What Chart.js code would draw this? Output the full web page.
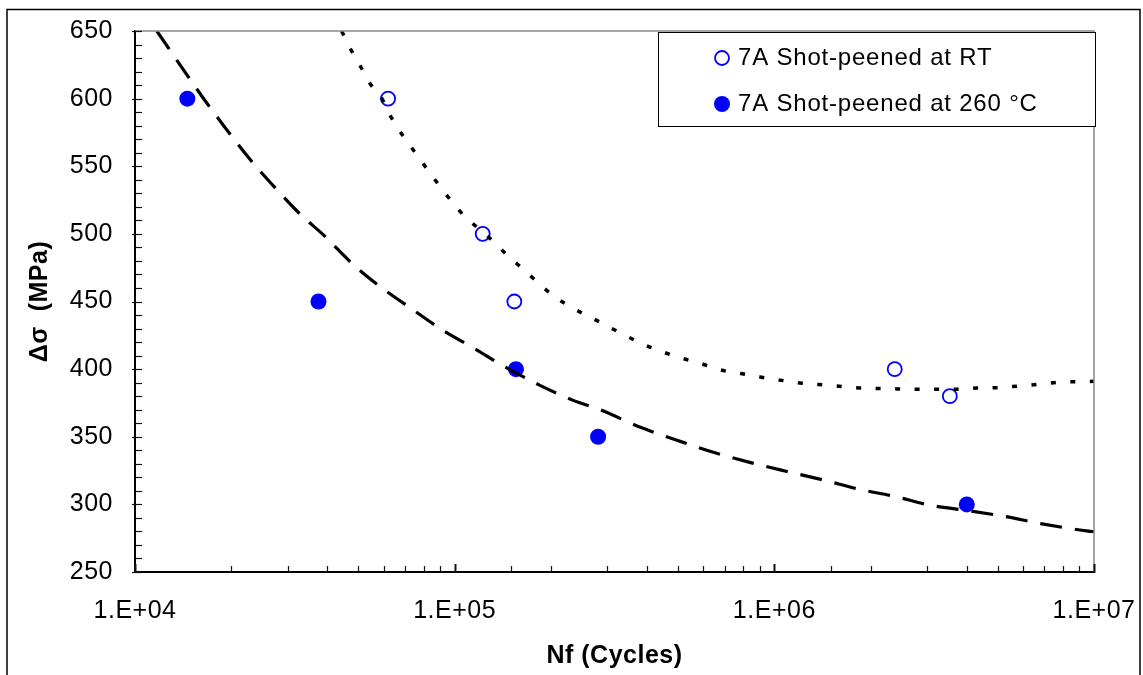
<!DOCTYPE html>
<html>
<head>
<meta charset="utf-8">
<title>S-N curves, 7A shot-peened</title>
<script src="https://cdn.jsdelivr.net/npm/chart.js@4/dist/chart.umd.min.js"></script>
<style>
  html,body{margin:0;padding:0;background:#fff;overflow:hidden;}
  #wrap{width:1143px;height:675px;position:relative;}
  canvas{display:block;}
</style>
</head>
<body>
<div id="wrap"><canvas id="sn"></canvas></div>
<script>
/* measured points: cycles to failure / stress range (MPa) */
const rtCycles  = [6.19e4, 1.224e5, 1.537e5, 2.38e6, 3.54e6];
const rtStress  = [600, 500, 450, 400, 380];
const hotCycles = [1.458e4, 3.75e4, 1.555e5, 2.81e5, 4.0e6];
const hotStress = [600, 450, 400, 350, 300];

/* trend lines */
const rtFitCycles = [4.43e4, 4.68e4, 5.06e4, 5.40e4, 5.91e4, 6.31e4, 7.8e4, 9.79e4, 1.069e5, 1.2e5, 1.327e5,
  1.479e5, 1.648e5, 1.826e5, 2.05e5, 2.32e5, 2.63e5, 3.86e5, 4.43e5, 5.09e5, 5.9e5, 6.78e5, 7.86e5, 9.02e5,
  1.035e6, 1.2e6, 1.378e6, 1.6e6, 1.84e6, 2.4e6, 3.0e6, 3.8e6, 4.3e6, 5.0e6, 5.86e6, 6.73e6, 7.82e6, 1e7];
const rtFitStress = [650, 638.4, 624.4, 612.1, 600.3, 586.7, 555, 523.9, 513.6, 503, 494,
  482.9, 473.5, 463.7, 453.8, 445.6, 439, 418.8, 413.1, 408.3, 404.1, 399.4, 396.7, 394.2,
  392, 389.8, 388.6, 387.3, 386.1, 385.4, 385.1, 385.1, 386, 386.3, 387.6, 388.8, 390.3, 391];

const hotFitCycles = [1.17e4, 1.636e4, 1.912e4, 2.262e4, 2.69e4, 3.24e4, 3.93e4, 4.79e4, 5.83e4, 7.34e4, 9.2e4,
  1.157e5, 1.411e5, 1.849e5, 2.35e5, 2.85e5, 3.85e5, 4.96e5, 6.49e5, 8.43e5, 1.087e6, 1.431e6, 1.855e6,
  2.37e6, 3.08e6, 4.0e6, 5.25e6, 6.81e6, 9.6e6, 1e7];
const hotFitStress = [650, 600.3, 578.7, 556.6, 536.3, 516, 498.1, 477.8, 461.2, 444.5, 428.6,
  415, 402.7, 388, 376.9, 370, 356.6, 347.4, 338.3, 330.9, 324.5, 317.9, 311,
  306, 299.3, 295.5, 291.1, 285.8, 280.2, 279.8];

const yMin = 250, yMax = 650, yStep = 50, yMinorStep = 10;
const xMin = 1e4, xMax = 1e7;
const legendLabels = ["7A Shot-peened at RT", "7A Shot-peened at 260 \u00B0C"];

const BLUE = "#0000FF";
const FONT = "'Liberation Sans', Arial, sans-serif";

function pts(xs, ys){ return xs.map((x,i)=>({x:x, y:ys[i]})); }
function sci(v){ const e = Math.round(Math.log10(v)); return "1.E+" + String(e).padStart(2,"0"); }
function isDecade(v){ const l = Math.log10(v); return Math.abs(l - Math.round(l)) < 1e-6; }

/* frame, minor ticks, legend box */
const decor = {
  id:"decor",
  beforeDraw(chart){
    chart.ctx.letterSpacing = "0.5px";   // excel text renders a little wider
  },
  afterDraw(chart){
    const {ctx, chartArea:a, scales:{x, y}} = chart;
    ctx.save();
    // grey top/right plot border
    ctx.strokeStyle = "#888"; ctx.lineWidth = 1.5;
    ctx.beginPath(); ctx.moveTo(a.left, a.top); ctx.lineTo(a.right, a.top); ctx.lineTo(a.right, a.bottom); ctx.stroke();
    // tick marks, pointing inward
    ctx.strokeStyle = "#111";
    x.ticks.forEach(t=>{
      const px = Math.round(x.getPixelForValue(t.value)) + 0.5;
      const major = isDecade(t.value);
      ctx.lineWidth = major ? 2 : 1.2;
      ctx.beginPath(); ctx.moveTo(px, a.bottom + (major?1:0)); ctx.lineTo(px, a.bottom - (major?8:6)); ctx.stroke();
    });
    ctx.lineWidth = 1.2;
    for(let v = yMin; v <= yMax; v += yMinorStep){
      const py = Math.round(y.getPixelForValue(v)) + 0.5;
      const major = v % yStep === 0;
      ctx.beginPath(); ctx.moveTo(a.left - (major?3:0), py); ctx.lineTo(a.left + 7, py); ctx.stroke();
    }
    // outer frame
    ctx.strokeStyle = "#000"; ctx.lineWidth = 1.5;
    ctx.strokeRect(7, 9.5, 1133, 700);
    // legend
    const L = 658.5, T = 32.5, W = 437, H = 94;
    ctx.fillStyle = "#fff"; ctx.fillRect(L, T, W, H);
    ctx.strokeStyle = "#000"; ctx.lineWidth = 1; ctx.strokeRect(L, T, W, H);
    const rows = [58, 104];
    ctx.beginPath(); ctx.arc(722, rows[0], 7, 0, Math.PI*2);
    ctx.strokeStyle = BLUE; ctx.lineWidth = 1.8; ctx.stroke();
    ctx.beginPath(); ctx.arc(722, rows[1], 8, 0, Math.PI*2);
    ctx.fillStyle = BLUE; ctx.fill();
    ctx.fillStyle = "#000"; ctx.font = "24px " + FONT;
    ctx.letterSpacing = "0.8px";
    ctx.textAlign = "left"; ctx.textBaseline = "middle";
    legendLabels.forEach((s,i)=> ctx.fillText(s, 738, rows[i]));
    ctx.restore();
  }
};

new Chart(document.getElementById("sn"), {
  type:"scatter",
  data:{ datasets:[
    { label:"RT trend", type:"line", data:pts(rtFitCycles, rtFitStress), borderColor:"#000", borderWidth:3.5,
      borderDash:[5,14.5], borderCapStyle:"butt", pointRadius:0, fill:false, cubicInterpolationMode:"monotone" },
    { label:"260 trend", type:"line", data:pts(hotFitCycles, hotFitStress), borderColor:"#000", borderWidth:3.2,
      borderDash:[22,13], borderCapStyle:"butt", pointRadius:0, fill:false, cubicInterpolationMode:"monotone" },
    { label:legendLabels[0], data:pts(rtCycles, rtStress), pointRadius:7, pointBorderWidth:1.8,
      pointBackgroundColor:"#fff", pointBorderColor:BLUE },
    { label:legendLabels[1], data:pts(hotCycles, hotStress), pointRadius:8, pointBorderWidth:0,
      pointBackgroundColor:BLUE, pointBorderColor:BLUE }
  ]},
  options:{
    responsive:true, maintainAspectRatio:false, animation:false,
    layout:{ padding:{ top:31, right:49, left:0, bottom:0 }, autoPadding:false },
    plugins:{ legend:{display:false}, tooltip:{enabled:false} },
    scales:{
      x:{ type:"logarithmic", min:xMin, max:xMax,
        grid:{display:false, drawTicks:false},
        border:{display:true, color:"#000", width:2},
        ticks:{ autoSkip:false, maxRotation:0, padding:24, color:"#000", font:{family:FONT, size:25},
          callback:(v)=> isDecade(v) ? sci(v) : "" },
        title:{ display:true, text:"Nf (Cycles)", color:"#000", font:{family:FONT, size:25, weight:"bold"},
          padding:{top:0, bottom:4} },
        afterFit:(s)=>{ s.height = 103; s.paddingLeft = 0; s.paddingRight = 0; }
      },
      y:{ min:yMin, max:yMax,
        grid:{display:false, drawTicks:false},
        border:{display:true, color:"#000", width:2},
        ticks:{ stepSize:yStep, padding:22, color:"#000", font:{family:FONT, size:25} },
        title:{ display:true, text:"\u0394\u03C3  (MPa)", color:"#000", font:{family:FONT, size:25, weight:"bold"},
          padding:{top:25, bottom:0} },
        afterFit:(s)=>{ s.width = 135; s.paddingTop = 0; s.paddingBottom = 0; }
      }
    }
  },
  plugins:[decor]
});
</script>
</body>
</html>
